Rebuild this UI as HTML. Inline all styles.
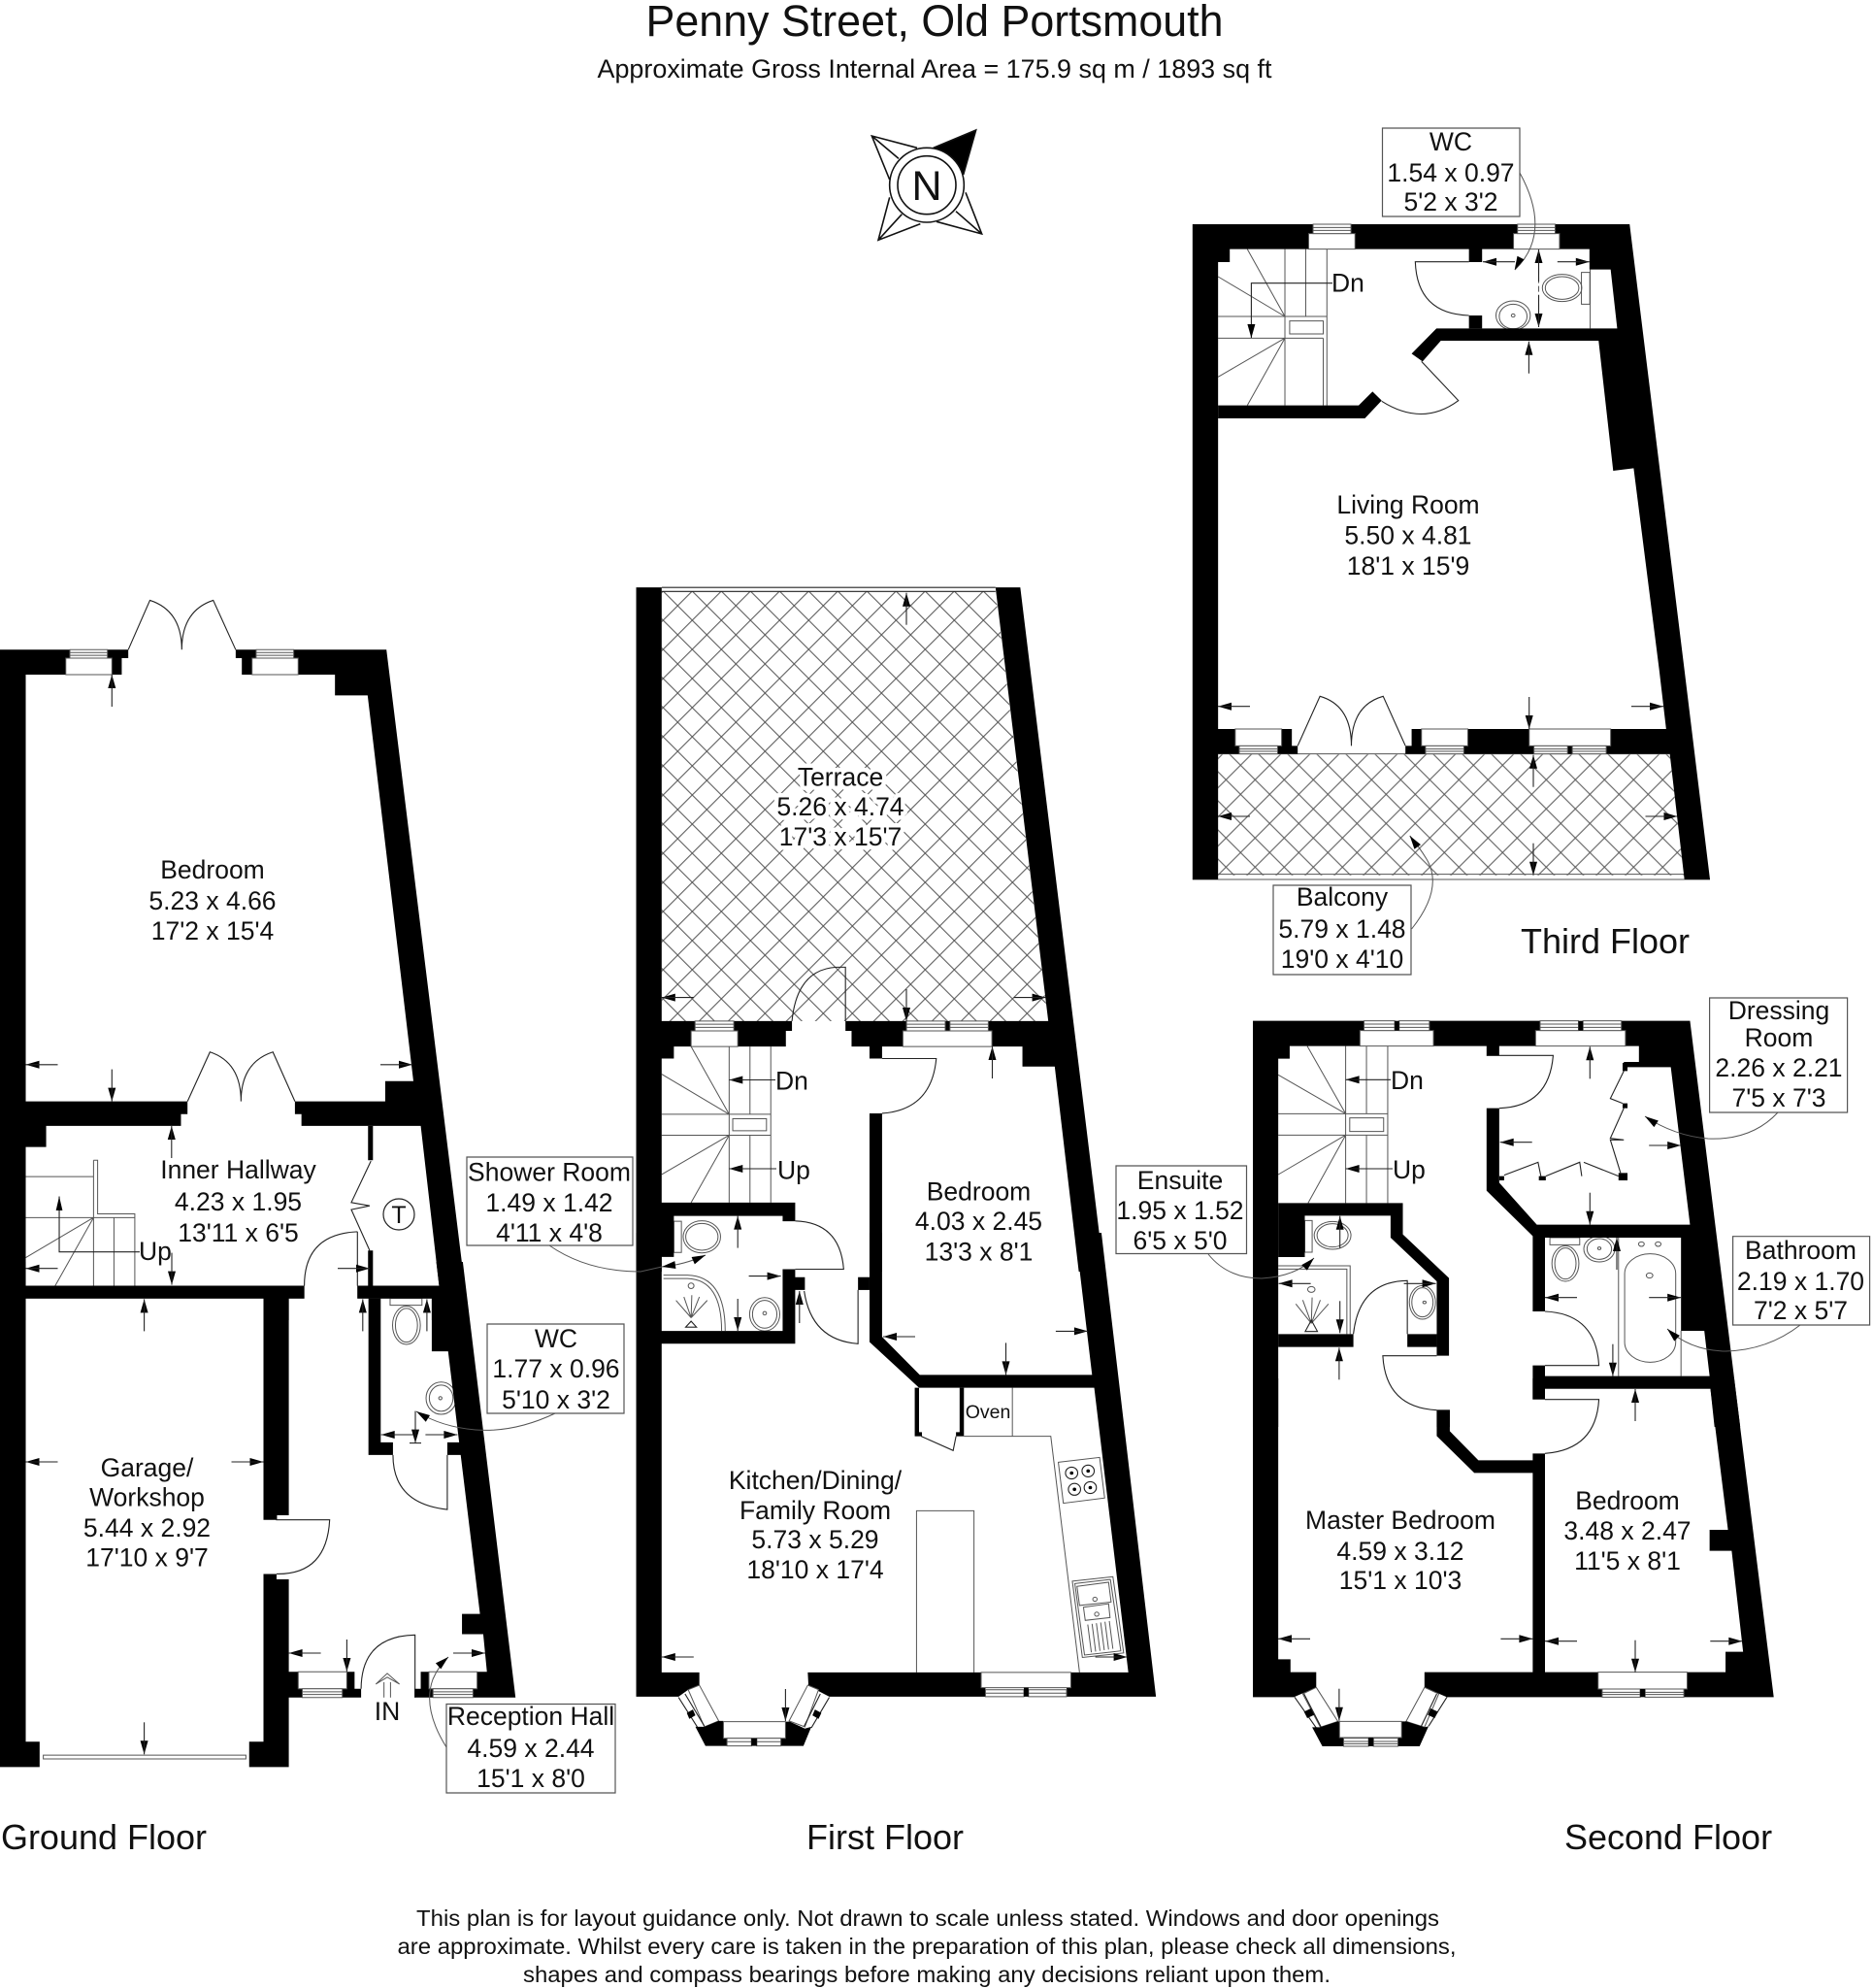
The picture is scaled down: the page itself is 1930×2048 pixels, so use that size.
<!DOCTYPE html>
<html><head><meta charset="utf-8"><title>Penny Street, Old Portsmouth</title>
<style>
html,body{margin:0;padding:0;background:#fff}
svg{display:block}
svg *{vector-effect:non-scaling-stroke}
.k{fill:#000;stroke:none}
.l{fill:none;stroke:#222;stroke-width:1.1}
.g{fill:none;stroke:#555;stroke-width:1}
.n{fill:#fff;stroke:#555;stroke-width:1}
text{font-family:"Liberation Sans",Arial,sans-serif;fill:#111;font-size:26.5px;text-anchor:middle}
.s{stroke:#fff;stroke-width:9px;paint-order:stroke;stroke-linejoin:round}
.f{font-size:36px}
.b{fill:#fff;stroke:#555;stroke-width:1.2}
</style></head><body>
<svg width="1930" height="2048" viewBox="0 0 1930 2048" xmlns="http://www.w3.org/2000/svg">
<defs>
<pattern id="h" patternUnits="userSpaceOnUse" width="30" height="30" patternTransform="translate(8.3 24)"><path d="M0 0L30 30M30 0L0 30" stroke="#555" stroke-width="1" fill="none"/></pattern>
<pattern id="h2" patternUnits="userSpaceOnUse" width="30" height="30" patternTransform="translate(18.3 8.3)"><path d="M0 0L30 30M30 0L0 30" stroke="#555" stroke-width="1" fill="none"/></pattern>
<path id="H" d="M0 0L14 -4V4Z" fill="#000"/>
<g id="L"><path d="M0 0L14 -4V4Z" fill="#000"/><path class="l" d="M0 0H33"/></g>
<g id="R"><path d="M0 0L-14 -4V4Z" fill="#000"/><path class="l" d="M0 0H-33"/></g>
<g id="U"><path d="M0 0L-4 14H4Z" fill="#000"/><path class="l" d="M0 0V33"/></g>
<g id="D"><path d="M0 0L-4 -14H4Z" fill="#000"/><path class="l" d="M0 0V-33"/></g>
</defs>
<rect width="1930" height="2048" fill="#fff"/>
<!-- hatch -->
<polygon points="681.8,609 1025.8,609 1080,1052 681.8,1052" fill="url(#h)"/>
<polygon points="1255,777.3 1720.6,777.3 1735,901.7 1255,901.7" fill="url(#h2)"/>

<!-- Z1 ground upper -->
<g transform="translate(0,600) scale(.42092,.48469)">
<path class="l" d="M314 143L367 38Q445 60 445 143M577 143L522 38Q445 60 445 143M459 1103L514 998Q590 1020 590 1103M722 1103L668 998Q590 1020 590 1103"/>
<path class="g" d="M229 1228H239V1342H330V1495M229 1228V1495M279 1350V1495M229 1350H330M63 1263H229M63 1350H229M229 1350L63 1435M229 1350L135 1495"/>
<path class="l" d="M145 1305V1423H342"/><path class="k" d="M145 1305L137 1335H153Z"/>
<path class="l" d="M908 1230L860 1318L905 1325L860 1333L905 1420M875 1380V1495M875 1380Q745 1385 745 1495"/>
<path class="k" d="M0 143H314V161H298V196H63V1568H0Z"/>
<path class="k" d="M577 143H946L1148 1568H1057V1522H875V1495H1075L1030 1155H738V1130H722V1103H943V1060H1012L900 240H820V196H592V161H577Z"/>
<path class="k" d="M0 1103H459V1130H443V1155H113V1200H0Z"/>
<path class="k" d="M0 1495H745V1522H0ZM901 1155H913V1228H901ZM901 1420H913V1495H901ZM707 1522H645V1568H707Z"/>
<rect class="n" x="161" y="161" width="113" height="35"/><rect class="n" x="171" y="143" width="92" height="18"/><path class="g" d="M171 149H263M171 155H263"/>
<rect class="n" x="617" y="161" width="113" height="35"/><rect class="n" x="627" y="143" width="92" height="18"/><path class="g" d="M627 149H719M627 155H719"/>
</g>

<!-- Z2 ground lower -->
<g transform="translate(0,1300) scale(.42092,.39541)">
<rect class="g" x="955" y="95" width="78" height="18"/>
<ellipse class="g" cx="995" cy="165" rx="34" ry="50"/><ellipse class="g" cx="995" cy="165" rx="27" ry="44"/>
<ellipse class="g" cx="1080" cy="355" rx="37" ry="42"/><ellipse class="g" cx="1080" cy="355" rx="29" ry="34"/><circle class="g" cx="1078" cy="355" r="4"/>
<path class="l" d="M1095 503V645Q962 630 962 503M677 660V672H807Q800 815 677 813M1016 1135V972Q885 975 884 1112"/>
<path class="g" d="M920 1100L948 1072L978 1100L948 1082ZM940 1095V1135M956 1095V1135"/>
<path class="k" d="M0 0H63V1250H97V1316H0ZM0 62H745V95H0ZM645 95H707V660H677V672H645ZM645 813H677V827H707V1068H730V1112H740V1135H707V1316H610V1250H645Z"/>
<path class="k" d="M838 1112H849V1068H868V1112H884V1135H838ZM1015 1112H1030V1068H1050V1112H1060V1135H1015Z"/>
<path class="k" d="M1133 0L1262 1135H1158V1112H1168V1068H1192L1183 970H1131V917H1175L1097 233H1057V95H875V62H1075L1068 0Z"/>
<path class="k" d="M902 95H932V470H962V503H902ZM1095 470H1125L1135 503H1095Z"/>
<rect class="n" x="730" y="1068" width="119" height="44"/><rect class="n" x="740" y="1112" width="98" height="23"/><path class="g" d="M740 1120H838M740 1127H838"/>
<rect class="n" x="1050" y="1068" width="118" height="44"/><rect class="n" x="1060" y="1112" width="98" height="23"/><path class="g" d="M1060 1120H1158M1060 1127H1158"/>
<rect class="n" x="106" y="1285" width="496" height="10"/>
</g>

<!-- Z3 first upper -->
<g transform="translate(640,590) scale(.3699,.45918)">
<path class="l" d="M113 33H1043M113 42H1043M476 1006Q490 890 600 885H625V1006M727 1090H878Q865 1205 727 1213"/>
<path class="g" d="M195 1063L301 1215M113 1125L301 1215M301 1063V1413M359 1063V1215M417 1063V1413M113 1215H417M113 1262H417M301 1262L113 1350M301 1262L195 1413M359 1262V1413"/>
<rect class="g" x="311" y="1225" width="94" height="27"/>
<rect class="g" x="147" y="1455" width="21" height="70"/><ellipse class="g" cx="225" cy="1490" rx="52" ry="36"/><ellipse class="g" cx="225" cy="1490" rx="45" ry="30"/>
<path class="k" d="M42 33H113V1006H206V1028H195V1063H147V1090H113V1413H485V1455H450V1443H147V1535H113V1568H42Z"/>
<path class="k" d="M314 1006H476V1028H459V1063H325V1028H314ZM625 1006H795V1028H785V1063H727V1090H692V1063H642V1028H625Z"/>
<path class="k" d="M1043 33H1112L1345 1568H1275L1208 1108H1118V1063H1033V1028H1023V1006H1190Z"/>
<path class="k" d="M692 1213H727V1568H692ZM903 1006H916V1028H903Z"/>
<rect class="n" x="195" y="1028" width="130" height="35"/><rect class="n" x="206" y="1006" width="108" height="22"/><path class="g" d="M206 1013H314M206 1020H314"/>
<rect class="n" x="785" y="1028" width="248" height="35"/><rect class="n" x="795" y="1006" width="108" height="22"/><rect class="n" x="916" y="1006" width="107" height="22"/><path class="g" d="M795 1013H903M795 1020H903M916 1013H1023M916 1020H1023"/>
</g>

<!-- Z4 first lower -->
<g transform="translate(640,1270) scale(.3699,.35714)">
<path class="l" d="M485 -34Q610 -30 620 105H485M660 165V320Q530 310 510 168M836 587L925 628L933 587"/>
<path class="g" d="M118 122H185Q290 125 290 283M118 132H185Q280 135 280 283M955 587H1197L1277 1268M1090 447V587M823 1268V802H983V1268"/>
<circle class="g" cx="195" cy="153" r="8"/>
<path class="g" d="M195 245L153 195M195 245L175 185M195 245L197 180M195 245L218 185M195 245L240 195"/>
<path class="l" d="M180 272L195 255L210 272Z"/>
<ellipse class="g" cx="400" cy="235" rx="42" ry="48"/><ellipse class="g" cx="400" cy="235" rx="34" ry="40"/><circle class="g" cx="400" cy="232" r="5"/>
<path class="g" d="M1218 662L1333 648L1347 765L1232 780Z"/>
<circle class="l" cx="1255" cy="693" r="17"/><circle class="l" cx="1301" cy="687" r="17"/><circle class="l" cx="1263" cy="740" r="17"/><circle class="l" cx="1307" cy="735" r="17"/>
<circle class="k" cx="1255" cy="693" r="5"/><circle class="k" cx="1301" cy="687" r="5"/><circle class="k" cx="1263" cy="740" r="5"/><circle class="k" cx="1307" cy="735" r="5"/>
<path class="g" d="M1257 1005L1370 992L1400 1212L1285 1225ZM1264 1012L1363 1000L1392 1206L1291 1218Z"/>
<path class="g" d="M1270 1020L1358 1008L1365 1065L1277 1075ZM1288 1080L1358 1070L1362 1110L1293 1118Z"/>
<circle class="g" cx="1320" cy="1057" r="6"/><circle class="g" cx="1325" cy="1100" r="6"/>
<path class="g" d="M1300 1130L1310 1210M1312 1128L1322 1208M1324 1126L1334 1206M1336 1124L1346 1204M1348 1122L1358 1202M1360 1120L1370 1200"/>
<path class="k" d="M42 0H113V283H450V105H485V128H512V165H485V320H113V1268H218V1307L187 1318L160 1338H42Z"/>
<path class="k" d="M660 128H692V165H660Z"/>
<path class="k" d="M692 0H727V300L832 410H1312L1265 0H1338L1490 1338H1241V1312H1253V1268H1413L1318 447H830L692 315Z"/>
<path class="k" d="M520 1268H1003V1312H1015V1338H580L522 1307Z"/>
<path class="k" d="M818 447H830V575H838V587H818ZM943 447H955V587H933V575H943Z"/>
<rect class="n" x="1003" y="1268" width="250" height="44"/><rect class="n" x="1015" y="1318" width="107" height="20"/><rect class="n" x="1135" y="1318" width="106" height="20"/><path class="g" d="M1015 1328H1122M1135 1328H1241"/>
<path class="k" d="M1122 1312H1135V1338H1122Z"/>
<path class="n" d="M218 1305L272 1408L232 1425L187 1318Z"/>
<path class="n" d="M520 1305L468 1408L512 1425L550 1318Z"/>
<path class="l" d="M160 1340L215 1430M178 1330L232 1423M580 1340L530 1428M555 1330L510 1423"/>
<path class="k" d="M183 1385L200 1375L207 1392L190 1402ZM540 1375L558 1385L550 1402L533 1392Z"/>
<path class="k" d="M207 1425L232 1425L272 1408H285V1458H295V1480H235Z"/>
<path class="k" d="M458 1410H470L512 1430L530 1425L508 1480H445V1458H458Z"/>
<rect class="n" x="285" y="1410" width="173" height="48"/><rect class="n" x="295" y="1458" width="68" height="22"/><rect class="n" x="378" y="1458" width="67" height="22"/><path class="g" d="M295 1468H363M378 1468H445"/>
<path class="k" d="M363 1458H378V1480H363Z"/>
</g>

<!-- Z5 third upper -->
<g transform="translate(1210,120) scale(.37628,.33333)">
<path class="g" d="M200 410L303 618M120 495L303 618M303 410V893M360 410V618M418 410V893M120 618H418M120 685H408M303 685L120 805M303 685L200 893M408 685V893M1139 473V655"/>
<rect class="g" x="316" y="632" width="92" height="40"/>
<path class="l" d="M677 757L778 878Q680 960 568 880M807 615Q665 610 660 449H807"/>
<rect class="g" x="1115" y="482" width="23" height="98"/><ellipse class="g" cx="1062" cy="530" rx="54" ry="42"/><ellipse class="g" cx="1062" cy="530" rx="46" ry="35"/>
<ellipse class="g" cx="928" cy="615" rx="47" ry="45"/><ellipse class="g" cx="928" cy="618" rx="38" ry="38"/><circle class="g" cx="928" cy="615" r="5"/>
<path class="g" d="M998 470V610" stroke-dasharray="6 3"/>
<path class="k" d="M50 333H380V362H368V410H152V450H120V1710H50Z"/>
<path class="k" d="M484 333H940V362H929V410H843V450H807V410H495V362H484ZM807 615H843V655H807Z"/>
<path class="k" d="M1043 333H1247L1397 1710H1328L1258 1087L1202 1095L1162 693H730L680 757L650 733L718 655H1213L1195 473H1137V410H1055V362H1043Z"/>
<path class="k" d="M120 893H505L543 850L568 878L522 933H120Z"/>
<rect class="n" x="368" y="362" width="127" height="48"/><rect class="n" x="380" y="333" width="104" height="29"/><path class="g" d="M380 343H484M380 352H484"/>
<rect class="n" x="929" y="362" width="126" height="48"/><rect class="n" x="940" y="333" width="103" height="29"/><path class="g" d="M940 343H1043M940 352H1043"/>
</g>

<!-- Z6 third lower -->
<g transform="translate(1210,690) scale(.37628,.33333)">
<path class="l" d="M338 235L399 82Q485 110 485 235M633 235L572 82Q485 110 485 235"/>
<path class="g" d="M120 260H1357M120 632H1397M50 648H1467"/>
<path class="k" d="M50 0H120V183H322V235H338V260H283V235H294V183H167V235H178V260H120V648H50Z"/>
<path class="k" d="M633 235H650V183H972V235H985V260H633Z"/>
<path class="k" d="M1328 0H1397L1467 648H1397L1357 260H1183V235H1195V183H1347Z"/>
<path class="k" d="M1077 235H1090V260H1077Z"/>
<rect class="n" x="167" y="183" width="127" height="52"/><rect class="n" x="178" y="235" width="105" height="25"/><path class="g" d="M178 245H283M178 252H283"/>
<rect class="n" x="677" y="183" width="127" height="52"/><rect class="n" x="688" y="235" width="105" height="25"/><path class="g" d="M688 245H793M688 252H793"/>
<rect class="n" x="972" y="183" width="223" height="52"/><rect class="n" x="985" y="235" width="92" height="25"/><rect class="n" x="1090" y="235" width="93" height="25"/><path class="g" d="M985 245H1077M985 252H1077M1090 245H1183M1090 252H1183"/>
</g>

<!-- Z7 second upper -->
<g transform="translate(1270,1030) scale(.42092,.33333)">
<path class="g" d="M183 143L277 352M112 232L277 352M277 143V628M328 143V352M380 143V628M112 352H380M112 418H380M277 418L112 540M277 418L185 628M328 418V628"/>
<rect class="g" x="287" y="365" width="83" height="42"/>
<path class="l" d="M622 172H785Q775 330 653 335M428 1033V868Q310 870 296 1033M765 963Q890 970 897 1130H765M500 1100H368Q375 1260 500 1268"/>
<path class="l" d="M958 220L925 305L955 320M958 335L925 428L958 433L925 433L950 535M665 542L748 502L755 545M767 545L850 502L855 545M860 502L945 545"/>
<path class="g" d="M945 735V1163M1098 1023V1163"/>
<rect class="g" x="960" y="785" width="125" height="335" rx="62" ry="62"/>
<circle class="g" cx="1001" cy="755" r="7"/><circle class="g" cx="1042" cy="755" r="7"/><circle class="g" cx="1021" cy="852" r="8"/>
<rect class="g" x="777" y="735" width="73" height="22"/><ellipse class="g" cx="815" cy="815" rx="33" ry="55"/><ellipse class="g" cx="815" cy="815" rx="26" ry="48"/>
<ellipse class="g" cx="898" cy="770" rx="38" ry="40"/><ellipse class="g" cx="898" cy="770" rx="30" ry="32"/><circle class="g" cx="898" cy="768" r="4"/>
<path class="g" d="M112 822H288V1033M112 832H280V1033"/>
<circle class="g" cx="193" cy="895" r="9"/><path class="g" d="M193 1000L155 940M193 1000L172 928M193 1000L195 920M193 1000L215 928M193 1000L235 940"/><path class="l" d="M178 1025H208L193 990Z"/>
<rect class="g" x="177" y="682" width="18" height="98"/><ellipse class="g" cx="245" cy="728" rx="45" ry="43"/><ellipse class="g" cx="245" cy="728" rx="38" ry="36"/>
<ellipse class="g" cx="465" cy="935" rx="32" ry="52"/><ellipse class="g" cx="465" cy="935" rx="26" ry="45"/><circle class="g" cx="470" cy="935" r="4"/>
<path class="k" d="M50 65H322V95H312V143H140V182H112V1320H50Z"/>
<path class="k" d="M482 65H753V95H742V143H653V172H622V143H492V95H482Z"/>
<path class="k" d="M952 65H1120L1243 1320H1180L1170 1202H765V1235H735V1130H765V1163H1168L1155 1023H1098V735H765V963H735V730L622 590V335H653V565L745 695H1120L1073 208H958V192H995V143H962V95H952Z"/>
<path class="k" d="M112 628H417V725L530 860V1100H500V870L387 735V667H177V795H112Z"/>
<path class="k" d="M112 1033H296V1073H112ZM428 1033H500V1073H428ZM500 1268H532V1320H500Z"/>
<path class="k" d="M955 195H967V220H955ZM955 320H967V335H955ZM945 535H967V558H945ZM750 545H767V558H750ZM653 545H665V558H653Z"/>
<rect class="n" x="312" y="95" width="180" height="48"/><rect class="n" x="322" y="65" width="75" height="30"/><rect class="n" x="408" y="65" width="74" height="30"/><path class="g" d="M322 75H397M322 85H397M408 75H482M408 85H482"/>
<path class="k" d="M397 65H408V95H397Z"/>
<rect class="n" x="742" y="95" width="220" height="48"/><rect class="n" x="753" y="65" width="94" height="30"/><rect class="n" x="858" y="65" width="94" height="30"/><path class="g" d="M753 75H847M753 85H847M858 75H952M858 85H952"/>
<path class="k" d="M847 65H858V95H847Z"/>
</g>

<!-- Z8 second lower -->
<g transform="translate(1270,1420) scale(.42092,.33333)">
<path class="l" d="M765 65H897Q890 220 765 232"/>
<path class="k" d="M50 0H112V868H142V908H205V955L150 985H50Z"/>
<path class="k" d="M735 0H1228L1325 985H1105V960H1113V908H1207V845H1250L1222 533H1168V468H1213L1170 32H765V65H735Z"/>
<path class="k" d="M735 232H765V908H895V960H905V985H525L470 955V908H735V292H592L500 178V97H532V163L602 253H735Z"/>
<rect class="n" x="895" y="908" width="218" height="52"/><rect class="n" x="905" y="960" width="93" height="25"/><rect class="n" x="1010" y="960" width="95" height="25"/><path class="g" d="M905 970H998M905 977H998M1010 970H1105M1010 977H1105"/>
<path class="k" d="M998 960H1010V985H998Z"/>
<path class="n" d="M205 955L258 1060L215 1078L172 975Z"/>
<path class="n" d="M470 955L425 1060L470 1078L505 975Z"/>
<path class="l" d="M152 985L205 1080M175 975L217 1078M525 985L480 1075M500 975L462 1075"/>
<path class="k" d="M175 1030L192 1020L200 1040L183 1050ZM485 1020L503 1030L495 1050L478 1040Z"/>
<path class="k" d="M195 1078L215 1078L258 1060H262V1110H272V1137H220Z"/>
<path class="k" d="M414 1060H425L470 1078L480 1075L458 1137H405V1110H414Z"/>
<rect class="n" x="262" y="1060" width="152" height="50"/><rect class="n" x="272" y="1112" width="61" height="25"/><rect class="n" x="345" y="1112" width="60" height="25"/><path class="g" d="M272 1122H333M272 1129H333M345 1122H405M345 1129H405"/>
<path class="k" d="M333 1110H345V1137H333Z"/>
</g>

<!-- compass -->
<g transform="translate(860,120) scale(.33333)">
<path class="k" d="M305 97L437 42L398 180Z"/>
<path d="M255 97L115 60L170 195M115 60L198 130M170 250L135 382L265 332M135 382L208 302M405 235L455 363L315 325M455 363L375 293M305 97L437 42L398 180" fill="none" stroke="#111" stroke-width="1.6"/>
<circle cx="285" cy="212" r="115" fill="#fff" stroke="#111" stroke-width="1.6"/>
<circle cx="285" cy="212" r="90" fill="#fff" stroke="#111" stroke-width="1.6"/>
</g>
<text x="955" y="206" style="font-size:43px">N</text>

<!-- T -->
<circle cx="411" cy="1251" r="16" fill="#fff" stroke="#222" stroke-width="1.2"/>
<text x="411" y="1260" style="font-size:25px">T</text>

<!-- arrows -->
<use href="#U" x="115.3" y="695"/><use href="#L" x="26.5" y="1096.8"/><use href="#R" x="425" y="1096.8"/><use href="#D" x="115.3" y="1134.6"/><use href="#U" x="176.8" y="1160"/><use href="#L" x="26.5" y="1306.7"/><use href="#D" x="177" y="1323.6"/><use href="#R" x="381" y="1306.7"/>
<use href="#U" x="148.6" y="1338.4"/><use href="#U" x="373.8" y="1338.4"/><use href="#U" x="439.9" y="1338.4"/><use href="#L" x="26.5" y="1506"/><use href="#R" x="271.5" y="1506"/><use href="#L" x="392.7" y="1478"/><use href="#R" x="471.4" y="1478"/><use href="#D" x="428" y="1486.6"/><path class="l" d="M422 1486.6H434"/>
<use href="#L" x="297.6" y="1703"/><use href="#R" x="500" y="1703"/><use href="#D" x="357.4" y="1722"/><use href="#D" x="148.6" y="1807.3"/>
<use href="#U" x="934" y="610.7"/><use href="#L" x="681.8" y="1027.6"/><use href="#R" x="1077.6" y="1027.6"/><use href="#D" x="934" y="1052"/><use href="#U" x="1022.5" y="1078"/>
<use href="#H" x="751.3" y="1112.5"/><path class="l" d="M751.3 1112.5H799"/><use href="#H" x="751.3" y="1204"/><path class="l" d="M751.3 1204H800"/>
<use href="#U" x="760.2" y="1252.6"/><use href="#R" x="804.6" y="1314.6"/><use href="#U" x="823.8" y="1330"/><use href="#D" x="760.2" y="1371"/><use href="#L" x="910" y="1377"/><use href="#R" x="1120.9" y="1371.4"/><use href="#D" x="1036.5" y="1416.4"/><use href="#L" x="681.8" y="1707"/><use href="#R" x="1161.6" y="1707"/><use href="#D" x="809.4" y="1773"/>
<use href="#L" x="1528" y="269.7"/><use href="#R" x="1637.8" y="269.7"/><use href="#U" x="1585.5" y="257"/><use href="#D" x="1585.5" y="337"/><use href="#U" x="1575.4" y="351.7"/>
<path class="l" d="M1373 291.7H1289.4V348"/><path d="M1289.4 348.3L1285.4 334H1293.4Z" fill="#000"/>
<use href="#L" x="1255" y="727.7"/><use href="#R" x="1714" y="727.7"/><use href="#D" x="1575.7" y="751"/><use href="#U" x="1580" y="777.7"/><use href="#D" x="1580" y="901.7"/><use href="#L" x="1255" y="841"/><use href="#R" x="1728.5" y="841"/>
<use href="#H" x="1386.6" y="1112.3"/><path class="l" d="M1386.6 1112.3H1433"/><use href="#H" x="1386.6" y="1204"/><path class="l" d="M1386.6 1204H1435"/>
<use href="#U" x="1638.3" y="1078.3"/><use href="#L" x="1545.7" y="1176.7"/><use href="#R" x="1732.2" y="1180"/><use href="#D" x="1638.3" y="1261.7"/>
<use href="#U" x="1380.7" y="1252.7"/><use href="#L" x="1317.6" y="1322.3"/><use href="#D" x="1380.7" y="1373.3"/><use href="#U" x="1379.9" y="1388.3"/><use href="#R" x="1479.6" y="1322.3"/><use href="#L" x="1592" y="1336.7"/><use href="#R" x="1732.2" y="1336.7"/><use href="#U" x="1666" y="1275"/><use href="#D" x="1661.9" y="1417.7"/><use href="#U" x="1685" y="1431"/>
<use href="#L" x="1317" y="1688.3"/><use href="#R" x="1579.4" y="1688.3"/><use href="#L" x="1592" y="1690.7"/><use href="#R" x="1795.3" y="1690.7"/><use href="#D" x="1685" y="1722.7"/><use href="#D" x="1379.9" y="1772.7"/>

<!-- leaders -->
<path class="g" d="M572 1456Q530 1476 490 1473Q455 1470 429 1454"/><use href="#H" transform="translate(429 1454) rotate(32)"/>
<path class="g" d="M460 1800Q435 1760 446 1730Q452 1716 462 1707"/><use href="#H" transform="translate(462 1707) rotate(138)"/>
<path class="g" d="M566 1283Q605 1310 660 1310L682 1305Q705 1303 727 1293"/><use href="#H" transform="translate(727 1293) rotate(156)"/><use href="#H" transform="translate(682 1305) rotate(-8)"/>
<path class="g" d="M1566 178Q1600 240 1561 278"/><use href="#H" transform="translate(1560.7 278) rotate(-63)"/>
<path class="g" d="M1454.6 957Q1488 915 1470 885Q1462 872 1452.7 861"/><use href="#H" transform="translate(1452.7 861) rotate(55)"/>
<path class="g" d="M1832 1146Q1805 1175 1760 1173Q1725 1170 1695 1150"/><use href="#H" transform="translate(1695 1150) rotate(34)"/>
<path class="g" d="M1855 1365Q1820 1392 1775 1392Q1740 1390 1718 1369"/><use href="#H" transform="translate(1718 1369) rotate(44)"/>
<path class="g" d="M1245 1292Q1265 1317 1300 1317Q1335 1315 1354 1296"/><use href="#H" transform="translate(1354 1296) rotate(135)"/>

<!-- label boxes -->
<rect class="b" x="481" y="1192" width="171" height="91"/>
<rect class="b" x="502" y="1364" width="141" height="92"/>
<rect class="b" x="460" y="1755.5" width="174" height="91.5"/>
<rect class="b" x="1424.5" y="132" width="141.5" height="91"/>
<rect class="b" x="1312" y="912" width="142" height="92"/>
<rect class="b" x="1761.6" y="1028" width="142" height="118"/>
<rect class="b" x="1150" y="1201" width="134.5" height="90.5"/>
<rect class="b" x="1785.6" y="1273.7" width="141" height="91.3"/>

<!-- text -->
<text x="963" y="37" style="font-size:45px" textLength="595" lengthAdjust="spacingAndGlyphs">Penny Street, Old Portsmouth</text>
<text x="963" y="80" textLength="695" lengthAdjust="spacingAndGlyphs">Approximate Gross Internal Area = 175.9 sq m / 1893 sq ft</text>

<text x="219" y="905">Bedroom</text><text x="219" y="937">5.23 x 4.66</text><text x="219" y="968">17'2 x 15'4</text>
<text x="245.5" y="1214">Inner Hallway</text><text x="245.5" y="1247">4.23 x 1.95</text><text x="245.5" y="1279">13'11 x 6'5</text>
<text x="160" y="1298">Up</text>
<text x="566" y="1216.5">Shower Room</text><text x="566" y="1248">1.49 x 1.42</text><text x="566" y="1279">4'11 x 4'8</text>
<text x="151.5" y="1521">Garage/</text><text x="151.5" y="1551.5">Workshop</text><text x="151.5" y="1583">5.44 x 2.92</text><text x="151.5" y="1613.5">17'10 x 9'7</text>
<text x="573" y="1388">WC</text><text x="573" y="1419">1.77 x 0.96</text><text x="573" y="1451">5'10 x 3'2</text>
<text x="547" y="1777">Reception Hall</text><text x="547" y="1810">4.59 x 2.44</text><text x="547" y="1841">15'1 x 8'0</text>
<text x="399" y="1772">IN</text>
<text class="f" x="107" y="1905">Ground Floor</text>

<text class="s" x="866" y="809.5">Terrace</text><text class="s" x="866" y="840">5.26 x 4.74</text><text class="s" x="866" y="871">17'3 x 15'7</text>
<text x="816" y="1122.5">Dn</text><text x="818" y="1214.5">Up</text>
<text x="1008.5" y="1236.5">Bedroom</text><text x="1008.5" y="1267">4.03 x 2.45</text><text x="1008.5" y="1298.5">13'3 x 8'1</text>
<text x="1018" y="1461" style="font-size:19.5px">Oven</text>
<text x="840" y="1534">Kitchen/Dining/</text><text x="840" y="1565">Family Room</text><text x="840" y="1595">5.73 x 5.29</text><text x="840" y="1626">18'10 x 17'4</text>
<text class="f" x="912" y="1905">First Floor</text>

<text x="1495" y="155">WC</text><text x="1495" y="187">1.54 x 0.97</text><text x="1495" y="217">5'2 x 3'2</text>
<text x="1389" y="300.7">Dn</text>
<text x="1451" y="529">Living Room</text><text x="1451" y="560.5">5.50 x 4.81</text><text x="1451" y="592">18'1 x 15'9</text>
<text x="1383" y="933">Balcony</text><text x="1383" y="966">5.79 x 1.48</text><text x="1383" y="997">19'0 x 4'10</text>
<text class="f" x="1654" y="982">Third Floor</text>

<text x="1833" y="1050">Dressing</text><text x="1833" y="1078">Room</text><text x="1833" y="1109">2.26 x 2.21</text><text x="1833" y="1140">7'5 x 7'3</text>
<text x="1216" y="1225">Ensuite</text><text x="1216" y="1256">1.95 x 1.52</text><text x="1216" y="1287">6'5 x 5'0</text>
<text x="1450" y="1122">Dn</text><text x="1452" y="1214">Up</text>
<text x="1855.5" y="1297">Bathroom</text><text x="1855.5" y="1329">2.19 x 1.70</text><text x="1855.5" y="1359">7'2 x 5'7</text>
<text x="1443" y="1575">Master Bedroom</text><text x="1443" y="1607">4.59 x 3.12</text><text x="1443" y="1637">15'1 x 10'3</text>
<text x="1677" y="1555">Bedroom</text><text x="1677" y="1586">3.48 x 2.47</text><text x="1677" y="1617">11'5 x 8'1</text>
<text class="f" x="1719" y="1905">Second Floor</text>

<text x="956" y="1984" style="font-size:23.5px" textLength="1054" lengthAdjust="spacingAndGlyphs">This plan is for layout guidance only. Not drawn to scale unless stated. Windows and door openings</text>
<text x="955" y="2013" style="font-size:23.5px" textLength="1091" lengthAdjust="spacingAndGlyphs">are approximate. Whilst every care is taken in the preparation of this plan, please check all dimensions,</text>
<text x="955" y="2042" style="font-size:23.5px" textLength="832" lengthAdjust="spacingAndGlyphs">shapes and compass bearings before making any decisions reliant upon them.</text>
</svg>
</body></html>
